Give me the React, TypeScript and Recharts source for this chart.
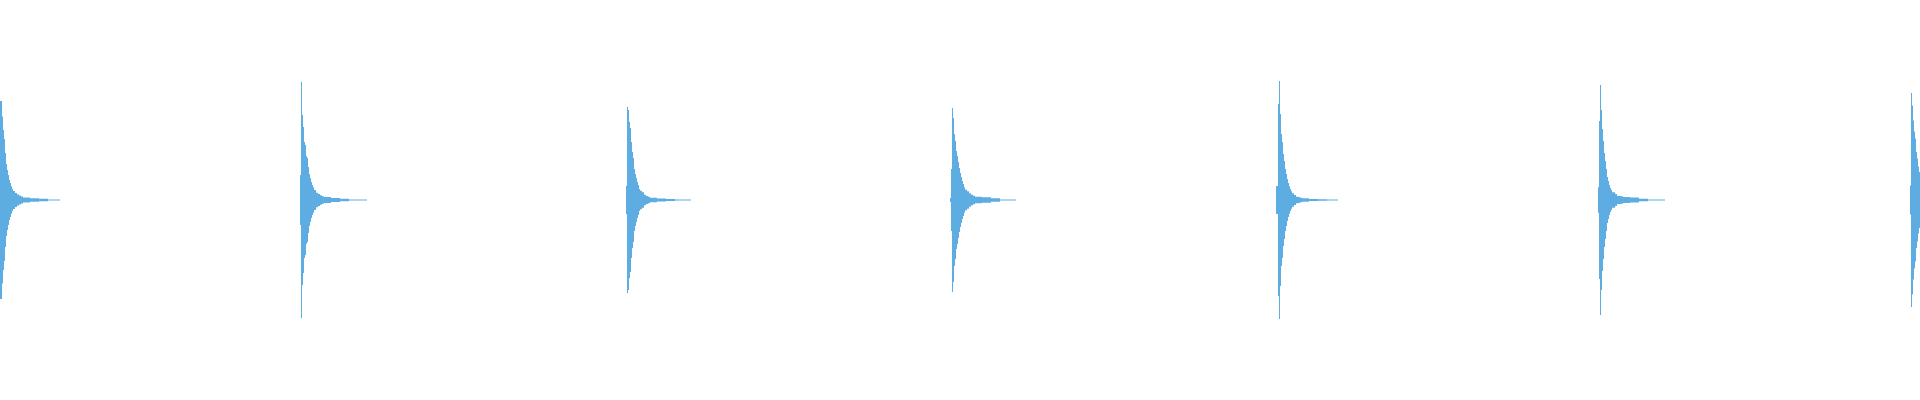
import { AreaChart, Area, XAxis, YAxis } from "recharts"

const WAVE_COLOR = "#5DADE2"

// sample offsets (relative to each burst's onset) at which the envelope was read
const OFFSETS = [-3, -2, -1, 0, 1, 2, 3, 4, 5, 6, 7, 8, 9, 10, 11, 12, 13, 15, 17, 19, 21, 23, 30, 39, 48]

// onset position of each burst on the time axis
const BURST_START = [0, 301, 627, 952, 1279, 1600, 1911]
// where each ringing tail dies out (offset from onset)
const TAIL_END = [60, 66, 64, 64, 59, 65, 9]

// envelope amplitude of every burst, one value per entry of OFFSETS
const BURST_1 = [0, 0, 0, 99, 99, 83.5, 70, 61, 47, 36, 30, 25, 20, 17, 13.5, 11, 9, 7, 5.5, 4.5, 3.5, 2.5, 1.8, 1.2, 0.5]
const BURST_2 = [0, 0, 25, 118, 85, 73, 58, 55, 44, 42, 33, 26, 22, 18, 15, 12.7, 10, 7.3, 6, 4.7, 3.7, 3, 2, 1.3, 0.5]
const BURST_3 = [0, 0, 14, 93, 90, 78, 72, 58, 48, 42, 31, 26, 22, 18, 15, 11, 9.3, 7.7, 5.3, 4, 3.3, 2.3, 1.5, 1, 0.5]
const BURST_4 = [0, 2, 31, 92, 82, 66, 59, 49, 44, 38, 32, 27, 23, 19, 16, 12.7, 10.3, 8.7, 6.7, 5.3, 4.3, 3.3, 2.7, 1.8, 0.5]
const BURST_5 = [14, 14, 96, 119, 86, 66, 58, 46, 39, 31, 26, 21, 17, 13.7, 11, 8.7, 6.7, 5, 3.3, 3, 2.3, 1.7, 1, 0.7, 0.5]
const BURST_6 = [0, 12.7, 79, 115, 90, 71, 59, 47, 39, 31, 23, 19, 15, 12, 10, 7.7, 7.7, 6, 4, 4, 3.7, 3, 2.5, 1.3, 0.5]
const BURST_7 = [0, 0, 14.5, 107, 94.5, 79.5, 68.5, 61.5, 48, 41.5, 33.5, 28]

const BURSTS = [BURST_1, BURST_2, BURST_3, BURST_4, BURST_5, BURST_6, BURST_7]

// range rows [low, high] for the waveform envelope
const data: { t: number; range: [number, number] }[] = []
BURSTS.forEach((amps, b) => {
  amps.forEach((a, i) => {
    data.push({ t: BURST_START[b] + OFFSETS[i], range: [-a, a] })
  })
  data.push({ t: BURST_START[b] + TAIL_END[b], range: [0, 0] })
})

export default function App() {
  return (
    <div style={{ position: "fixed", left: 0, top: 0, width: 1920, height: 400, background: "#fff" }}>
      <AreaChart width={1920} height={400} data={data} margin={{ top: 0, right: 0, bottom: 0, left: 0 }}>
        <XAxis type="number" dataKey="t" domain={[0, 1920]} allowDataOverflow hide />
        <YAxis type="number" domain={[-200, 200]} allowDataOverflow hide />
        <Area
          type="stepAfter"
          dataKey="range"
          stroke="none"
          fill={WAVE_COLOR}
          fillOpacity={1}
          dot={false}
          activeDot={false}
          isAnimationActive={false}
        />
      </AreaChart>
    </div>
  )
}
